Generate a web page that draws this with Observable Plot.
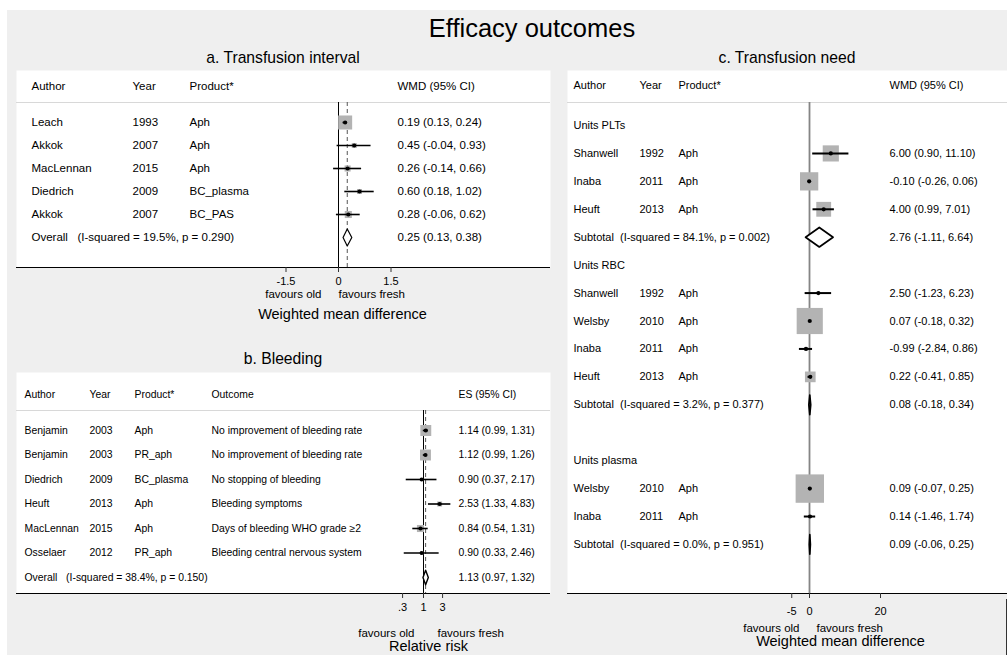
<!DOCTYPE html>
<html>
<head>
<meta charset="utf-8">
<script src="https://cdn.jsdelivr.net/npm/d3@7"></script>
<script src="https://cdn.jsdelivr.net/npm/@observablehq/plot@0.6"></script>
<style>
html, body { margin: 0; padding: 0; background: #fff; }
#fig { position: relative; width: 1007px; height: 655px; overflow: hidden;
  font-family: "Liberation Sans", Arial, Helvetica, sans-serif; color: #000; }
#bg { position: absolute; left: 7px; top: 10px; right: 0; bottom: 0; background: #efefef; }
.ttl { position: absolute; text-align: center; white-space: nowrap; line-height: 1; }
.panel { position: absolute; }
.panel svg { display: block; overflow: visible; }
#edge { position: absolute; left: 1006px; top: 599px; width: 1px; height: 56px; background: #333; }
</style>
</head>
<body>
<div id="fig">
  <div id="bg"></div>
  <div class="ttl" style="left:232px;width:600px;top:16px;font-size:25.5px;">Efficacy outcomes</div>
  <div class="ttl" style="left:16px;width:534px;top:50px;font-size:15.7px;">a. Transfusion interval</div>
  <div class="ttl" style="left:16px;width:534px;top:351px;font-size:15.7px;">b. Bleeding</div>
  <div class="ttl" style="left:567px;width:440px;top:50px;font-size:15.7px;">c. Transfusion need</div>
  <div class="panel" id="pa" style="left:16px;top:70px;width:534px;"></div>
  <div class="panel" id="pb" style="left:16px;top:372px;width:534px;"></div>
  <div class="panel" id="pc" style="left:567px;top:70px;width:440px;"></div>
  <div id="edge"></div>
</div>
<script>
// ---------- Panel a: Transfusion interval (WMD) ----------
const aHeaders = ["Author", "Year", "Product*", "WMD (95% CI)"];
const aAuthor = ["Leach", "Akkok", "MacLennan", "Diedrich", "Akkok"];
const aYear = ["1993", "2007", "2015", "2009", "2007"];
const aProduct = ["Aph", "Aph", "Aph", "BC_plasma", "BC_PAS"];
const aEst = [0.19, 0.45, 0.26, 0.60, 0.28];
const aLo = [0.13, -0.04, -0.14, 0.18, -0.06];
const aHi = [0.24, 0.93, 0.66, 1.02, 0.62];
const aWeight = [59, 7.5, 11, 7.5, 15];
const aPooled = [0.25, 0.13, 0.38];
const aPooledLabel = "Overall\u00a0\u00a0 (I-squared = 19.5%, p = 0.290)";
const aTicks = [-1.5, 0, 1.5];
const aTickLabels = ["-1.5", "0", "1.5"];
const aAxisTitle = "Weighted mean difference";

// ---------- Panel b: Bleeding (RR) ----------
const bHeaders = ["Author", "Year", "Product*", "Outcome", "ES (95% CI)"];
const bAuthor = ["Benjamin", "Benjamin", "Diedrich", "Heuft", "MacLennan", "Osselaer"];
const bYear = ["2003", "2003", "2009", "2013", "2015", "2012"];
const bProduct = ["Aph", "PR_aph", "BC_plasma", "Aph", "Aph", "PR_aph"];
const bOutcome = ["No improvement of bleeding rate", "No improvement of bleeding rate",
  "No stopping of bleeding", "Bleeding symptoms", "Days of bleeding WHO grade \u22652",
  "Bleeding central nervous system"];
const bEst = [1.14, 1.12, 0.90, 2.53, 0.84, 0.90];
const bLo = [0.99, 0.99, 0.37, 1.33, 0.54, 0.33];
const bHi = [1.31, 1.26, 2.17, 4.83, 1.31, 2.46];
const bWeight = [36, 36, 2.5, 7.5, 15, 3];
const bPooled = [1.13, 0.97, 1.32];
const bPooledLabel = "Overall\u00a0\u00a0 (I-squared = 38.4%, p = 0.150)";
const bTicks = [0.3, 1, 3];
const bTickLabels = [".3", "1", "3"];
const bAxisTitle = "Relative risk";

// ---------- Panel c: Transfusion need (WMD) ----------
const cHeaders = ["Author", "Year", "Product*", "WMD (95% CI)"];
const cGroups = ["Units PLTs", "Units RBC", "Units plasma"];
const cGroupOf = [0, 0, 0, 1, 1, 1, 1, 2, 2];
const cAuthor = ["Shanwell", "Inaba", "Heuft", "Shanwell", "Welsby", "Inaba", "Heuft", "Welsby", "Inaba"];
const cYear = ["1992", "2011", "2013", "1992", "2010", "2011", "2013", "2010", "2011"];
const cProduct = ["Aph", "Aph", "Aph", "Aph", "Aph", "Aph", "Aph", "Aph", "Aph"];
const cEst = [6.00, -0.10, 4.00, 2.50, 0.07, -0.99, 0.22, 0.09, 0.14];
const cLo = [0.90, -0.26, 0.99, -1.23, -0.18, -2.84, -0.41, -0.07, -1.46];
const cHi = [11.10, 0.06, 7.01, 6.23, 0.32, 0.86, 0.85, 0.25, 1.74];
const cWeight = [32, 41, 27, 0.5, 84, 1.5, 14, 99, 1];
const cSubHet = ["I-squared = 84.1%, p = 0.002", "I-squared = 3.2%, p = 0.377", "I-squared = 0.0%, p = 0.951"];
const cSubEst = [2.76, 0.08, 0.09];
const cSubLo = [-1.11, -0.18, -0.06];
const cSubHi = [6.64, 0.34, 0.25];
const cGapAfter = [0, 1, 0];
const cTicks = [-5, 0, 20];
const cTickLabels = ["-5", "0", "20"];
const cAxisTitle = "Weighted mean difference";

// ---------- helpers ----------
const f2 = v => v.toFixed(2);
const ci = (e, l, h) => `${f2(e)} (${f2(l)}, ${f2(h)})`;
const FONT = '"Liberation Sans", Arial, Helvetica, sans-serif';

function forest(cfg) {
  const rowAt = px => (px - cfg.rowTopPx) / cfg.rowStep;
  const yTop = rowAt(0), yBot = rowAt(cfg.frameH);
  const hdrY = rowAt(cfg.headerPx), ruleV = rowAt(cfg.rulePx);
  const studies = cfg.rows.filter(d => d.kind === "study");
  const dh = cfg.diamondH;
  const diamonds = cfg.summaries.flatMap((s, k) => [
    {k, x: s.lo, y: s.row}, {k, x: s.est, y: s.row - dh},
    {k, x: s.hi, y: s.row}, {k, x: s.est, y: s.row + dh}
  ]);
  const marks = [
    Plot.frame({fill: "white", stroke: "none"}),
    Plot.ruleY([ruleV], {stroke: "#d8d8d8", strokeWidth: 1}),
    Plot.ruleX([cfg.refX], {y1: ruleV, y2: yBot, stroke: cfg.refStroke, strokeWidth: cfg.refWidth})
  ];
  if (cfg.pooledX != null) {
    marks.push(Plot.ruleX([cfg.pooledX], {y1: ruleV, y2: yBot, stroke: "#555", strokeWidth: 1, strokeDasharray: "4,3"}));
  }
  marks.push(
    Plot.dot(studies, {x: "est", y: "row", r: "w", symbol: "square", fill: "#b3b3b3", stroke: null}),
    Plot.ruleY(studies, {y: "row", x1: "lo", x2: "hi", stroke: "#000", strokeWidth: cfg.ciWidth}),
    Plot.dot(studies, {x: "est", y: "row", r: 2.1, fill: "#000", stroke: null}),
    Plot.line(diamonds, {x: "x", y: "y", z: "k", curve: "linear-closed", fill: "white", stroke: "#000", strokeWidth: cfg.diamondStroke})
  );
  cfg.cols.forEach((dx, j) => {
    marks.push(Plot.text([cfg.headers[j]], {y: () => hdrY, text: d => d, frameAnchor: "left", dx, textAnchor: "start", fontSize: cfg.fontSize}));
    marks.push(Plot.text(cfg.rows.filter(d => d.cells[j]), {y: "row", text: d => d.cells[j], frameAnchor: "left", dx, textAnchor: "start", fontSize: cfg.fontSize}));
  });
  marks.push(
    Plot.ruleY([yBot], {stroke: "#000", strokeWidth: 1}),
    Plot.axisX({ticks: cfg.ticks, tickFormat: d => cfg.tickLabels[cfg.ticks.indexOf(d)], tickSize: 5,
      tickPadding: cfg.tickPad, fontSize: 11, label: null, stroke: "#333"}),
    Plot.text(["favours old"], {x: () => cfg.refX, text: d => d, frameAnchor: "bottom", dy: cfg.favDy, dx: cfg.oldDx, textAnchor: "end", fontSize: 11.5}),
    Plot.text(["favours fresh"], {x: () => cfg.refX, text: d => d, frameAnchor: "bottom", dy: cfg.favDy, dx: cfg.freshDx, textAnchor: "start", fontSize: 11.5}),
    Plot.text([cfg.axisTitle], {x: () => cfg.refX, text: d => d, frameAnchor: "bottom", dy: cfg.titleDy, dx: cfg.titleDx, textAnchor: "middle", fontSize: 14.5})
  );
  return Plot.plot({
    width: cfg.width, height: cfg.height,
    marginTop: 0, marginLeft: 0, marginRight: 0, marginBottom: cfg.height - cfg.frameH,
    x: cfg.x,
    y: {domain: [yBot, yTop], axis: null},
    r: {type: "sqrt", domain: [0, 100], range: [0, cfg.rMax]},
    style: {background: "transparent", fontFamily: FONT, fontSize: "11px", color: "#000", overflow: "visible"},
    marks
  });
}

// ---------- panel a ----------
{
  const rows = aAuthor.map((a, i) => ({kind: "study", row: i, cells: [a, aYear[i], aProduct[i], ci(aEst[i], aLo[i], aHi[i])],
    est: aEst[i], lo: aLo[i], hi: aHi[i], w: aWeight[i]}));
  const sRow = rows.length;
  rows.push({kind: "sum", row: sRow, cells: [aPooledLabel, "", "", ci(...aPooled)]});
  const W = 534, zeroPx = 322, ppu = 35;
  document.getElementById("pa").append(forest({
    width: W, height: 262, frameH: 197, rowTopPx: 52, rowStep: 23, headerPx: 16, rulePx: 32,
    x: {type: "linear", domain: [-zeroPx / ppu, (W - zeroPx) / ppu]},
    refX: 0, refStroke: "#000", refWidth: 1, pooledX: aPooled[0],
    rows, summaries: [{row: sRow, est: aPooled[0], lo: aPooled[1], hi: aPooled[2]}],
    headers: aHeaders, cols: [15, 116, 173, 381], fontSize: 11.5, rMax: 10.3, ciWidth: 1.6,
    diamondH: 0.37, diamondStroke: 1.2,
    ticks: aTicks, tickLabels: aTickLabels, tickPad: 5, favDy: 30, oldDx: -17, freshDx: 0,
    axisTitle: aAxisTitle, titleDy: 51, titleDx: 4
  }));
}

// ---------- panel b ----------
{
  const rows = bAuthor.map((a, i) => ({kind: "study", row: i, cells: [a, bYear[i], bProduct[i], bOutcome[i], ci(bEst[i], bLo[i], bHi[i])],
    est: bEst[i], lo: bLo[i], hi: bHi[i], w: bWeight[i]}));
  const sRow = rows.length;
  rows.push({kind: "sum", row: sRow, cells: [bPooledLabel, "", "", "", ci(...bPooled)]});
  const W = 534, onePx = 407, ppd = 40;
  document.getElementById("pb").append(forest({
    width: W, height: 283, frameH: 221, rowTopPx: 58, rowStep: 24.5, headerPx: 22, rulePx: 38,
    x: {type: "log", domain: [Math.pow(10, -onePx / ppd), Math.pow(10, (W - onePx) / ppd)]},
    refX: 1, refStroke: "#000", refWidth: 1, pooledX: bPooled[0],
    rows, summaries: [{row: sRow, est: bPooled[0], lo: bPooled[1], hi: bPooled[2]}],
    headers: bHeaders, cols: [8, 73, 118, 195, 442], fontSize: 10.4, rMax: 10.3, ciWidth: 1.6,
    diamondH: 0.3, diamondStroke: 1.4,
    ticks: bTicks, tickLabels: bTickLabels, tickPad: 5, favDy: 43, oldDx: -9, freshDx: 14,
    axisTitle: bAxisTitle, titleDy: 57, titleDx: 5
  }));
}

// ---------- panel c ----------
{
  const rows = [], summaries = [];
  let r = 0;
  cGroups.forEach((g, gi) => {
    rows.push({kind: "group", row: r++, cells: [g, "", "", ""]});
    cAuthor.forEach((a, i) => {
      if (cGroupOf[i] !== gi) return;
      rows.push({kind: "study", row: r++, cells: [a, cYear[i], cProduct[i], ci(cEst[i], cLo[i], cHi[i])],
        est: cEst[i], lo: cLo[i], hi: cHi[i], w: cWeight[i]});
    });
    summaries.push({row: r, est: cSubEst[gi], lo: cSubLo[gi], hi: cSubHi[gi]});
    rows.push({kind: "sum", row: r++, cells: ["Subtotal\u00a0 (" + cSubHet[gi] + ")", "", "", ci(cSubEst[gi], cSubLo[gi], cSubHi[gi])]});
    r += cGapAfter[gi];
  });
  const W = 440, zeroPx = 242, ppu = 3.55;
  document.getElementById("pc").append(forest({
    width: W, height: 585, frameH: 523, rowTopPx: 55, rowStep: 27.93, headerPx: 15, rulePx: 32,
    x: {type: "linear", domain: [-zeroPx / ppu, (W - zeroPx) / ppu]},
    refX: 0, refStroke: "#858585", refWidth: 1.8, pooledX: null,
    rows, summaries,
    headers: cHeaders, cols: [6, 72, 111, 322], fontSize: 11, rMax: 16.1, ciWidth: 2,
    diamondH: 0.35, diamondStroke: 1.7,
    ticks: cTicks, tickLabels: cTickLabels, tickPad: 9, favDy: 38, oldDx: -10, freshDx: 7,
    axisTitle: cAxisTitle, titleDy: 52, titleDx: 31
  }));
}
</script>
</body>
</html>
